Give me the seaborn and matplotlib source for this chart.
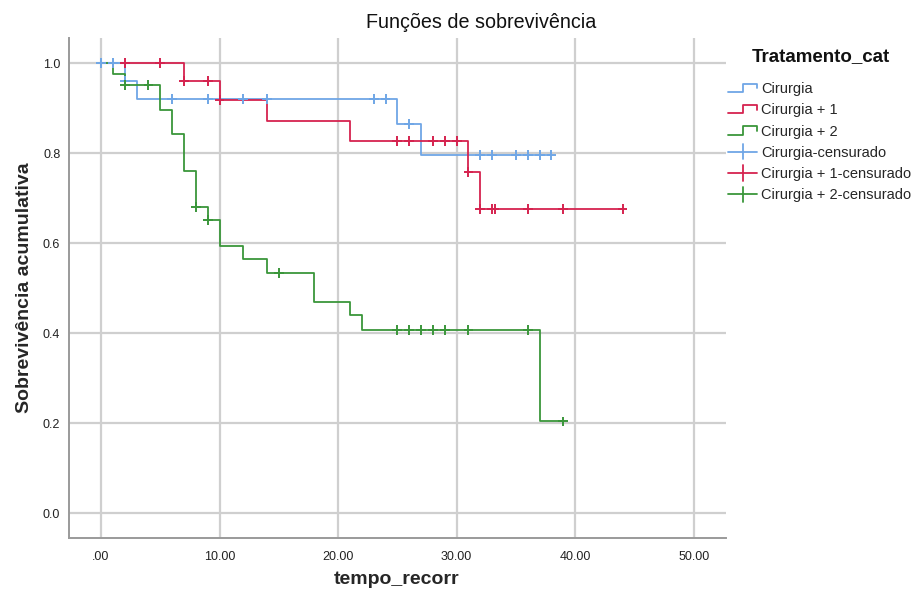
import numpy as np
import pandas as pd
import matplotlib
matplotlib.use("Agg")
import matplotlib.pyplot as plt
import seaborn as sns
from matplotlib.lines import Line2D
from matplotlib.legend_handler import HandlerBase

# ---------------- data ----------------
groups = ["Cirurgia", "Cirurgia + 1", "Cirurgia + 2"]

cir_start = 0
cir_event_t = [2, 3, 25, 27]
cir_event_s = [0.960, 0.920, 0.864, 0.796]
cir_cens_t = [0, 1, 2, 6, 9, 12, 14, 23, 24, 26, 32, 33, 35, 36, 37, 38]

c1_start = 2
c1_event_t = [7, 10, 14, 21, 31, 32]
c1_event_s = [0.961, 0.918, 0.871, 0.827, 0.758, 0.676]
c1_cens_t = [2, 5, 7, 9, 10, 25, 26, 28, 29, 30, 31, 32, 33, 33.2, 36, 39, 44]

c2_start = 0
c2_event_t = [1, 2, 5, 6, 7, 8, 9, 10, 12, 14, 18, 21, 22, 37]
c2_event_s = [0.976, 0.951, 0.896, 0.842, 0.761, 0.681, 0.651, 0.593,
              0.564, 0.533, 0.470, 0.440, 0.407, 0.204]
c2_cens_t = [2, 4, 8, 9, 15, 25, 26, 27, 28, 29, 31, 36, 39]

x_ticks = [0, 10, 20, 30, 40, 50]
x_tick_labels = [".00", "10.00", "20.00", "30.00", "40.00", "50.00"]
y_ticks = [0.0, 0.2, 0.4, 0.6, 0.8, 1.0]
y_tick_labels = ["0.0", "0.2", "0.4", "0.6", "0.8", "1.0"]

colors = {"Cirurgia": "#6fa6e6", "Cirurgia + 1": "#d5234f", "Cirurgia + 2": "#3a963a"}

series = {
    "Cirurgia": (cir_start, cir_event_t, cir_event_s, cir_cens_t),
    "Cirurgia + 1": (c1_start, c1_event_t, c1_event_s, c1_cens_t),
    "Cirurgia + 2": (c2_start, c2_event_t, c2_event_s, c2_cens_t),
}


def surv_at(t, ev_t, ev_s):
    s = 1.0
    for et, es in zip(ev_t, ev_s):
        if et <= t:
            s = es
    return s


line_rows = []
cens_rows = []
for g in groups:
    start, ev_t, ev_s, cens_t = series[g]
    end = max(max(ev_t), max(cens_t))
    line_rows.append((g, start, 1.0))
    for et, es in zip(ev_t, ev_s):
        line_rows.append((g, et, es))
    line_rows.append((g, end, surv_at(end, ev_t, ev_s)))
    for ct in cens_t:
        cens_rows.append((g, ct, surv_at(ct, ev_t, ev_s)))

line_df = pd.DataFrame(line_rows, columns=["grupo", "t", "s"])
cens_df = pd.DataFrame(cens_rows, columns=["grupo", "t", "s"])

# ---------------- figure ----------------
sns.set_style("white")
plt.rcParams["font.family"] = ["Liberation Sans", "DejaVu Sans"]

W, H = 914, 601
fig = plt.figure(figsize=(W / 100, H / 100), dpi=100)
ax = fig.add_axes([68.7 / W, 1 - 538 / H, (725.7 - 68.7) / W, (538 - 38) / H])

sns.lineplot(data=line_df, x="t", y="s", hue="grupo", hue_order=groups,
             palette=colors, drawstyle="steps-post", estimator=None,
             sort=False, linewidth=1.3, legend=False, ax=ax)
sns.scatterplot(data=cens_df, x="t", y="s", hue="grupo", hue_order=groups,
                palette=colors, marker="+", s=50, linewidth=1.4,
                legend=False, ax=ax, zorder=3)

ax.set_xlim(-2.73, 52.7)
ax.set_ylim(-0.055, 1.056)
ax.set_xticks(x_ticks)
ax.set_xticklabels(x_tick_labels)
ax.set_yticks(y_ticks)
ax.set_yticklabels(y_tick_labels)
ax.tick_params(axis="both", length=0, labelsize=9, labelcolor="#222222")
ax.tick_params(axis="x", pad=9)
ax.tick_params(axis="y", pad=6)
ax.grid(True, color="#cfcfcf", linewidth=1.6)
ax.set_axisbelow(True)
for side in ["top", "right"]:
    ax.spines[side].set_visible(False)
for side in ["left", "bottom"]:
    ax.spines[side].set_color("#9a9a9a")
    ax.spines[side].set_linewidth(1.4)

ax.set_xlabel("tempo_recorr", fontsize=14, fontweight="bold", labelpad=14)
ax.set_ylabel("Sobrevivência acumulativa", fontsize=14, fontweight="bold", labelpad=7)
ax.xaxis.set_label_coords((397 - 68.7) / (725.7 - 68.7), -(580 - 538) / (538 - 38))
ax.xaxis.label.set_va("center")

fig.text(481 / W, 1 - 22 / H, "Funções de sobrevivência", ha="center", va="center",
         fontsize=14.2, color="#111111")


# ---------------- legend ----------------
class StepHandler(HandlerBase):
    def __init__(self, color):
        super().__init__()
        self.color = color

    def create_artists(self, legend, orig_handle, xdescent, ydescent, width,
                       height, fontsize, trans):
        x0, y0 = -xdescent, -ydescent
        xs = [x0, x0 + 0.53 * width, x0 + 0.53 * width, x0 + width, x0 + width]
        ys = [y0 + 0.1 * height, y0 + 0.1 * height, y0 + 0.9 * height,
              y0 + 0.9 * height, y0 + 0.45 * height]
        ln = Line2D(xs, ys, color=self.color, linewidth=1.3, transform=trans)
        return [ln]


class CensHandler(HandlerBase):
    def __init__(self, color):
        super().__init__()
        self.color = color

    def create_artists(self, legend, orig_handle, xdescent, ydescent, width,
                       height, fontsize, trans):
        x0, y0 = -xdescent, -ydescent
        ym = y0 + 0.5 * height
        xm = x0 + 0.5 * width
        h = Line2D([x0, x0 + width], [ym, ym], color=self.color, linewidth=1.3,
                   transform=trans)
        v = Line2D([xm, xm], [ym - 0.75 * height, ym + 0.75 * height],
                   color=self.color, linewidth=1.3, transform=trans)
        return [h, v]


handles = []
labels = []
hmap = {}
for g in groups:
    hd = Line2D([], [], color=colors[g])
    handles.append(hd)
    labels.append(g)
    hmap[hd] = StepHandler(colors[g])
for g in groups:
    hd = Line2D([], [], color=colors[g], marker="+")
    handles.append(hd)
    labels.append(g + "-censurado")
    hmap[hd] = CensHandler(colors[g])

fig.text(821 / W, 1 - 57 / H, "Tratamento_cat", ha="center", va="center",
         fontsize=13.5, fontweight="bold", color="#111111")

leg = fig.legend(handles, labels, handler_map=hmap, loc="upper left",
                 bbox_to_anchor=(728 / W, 1 - 82 / H), frameon=False,
                 fontsize=10.5, handlelength=2.0, handletextpad=0.28,
                 labelspacing=0.5, borderaxespad=0, borderpad=0)

fig.savefig("out.png", dpi=100)
